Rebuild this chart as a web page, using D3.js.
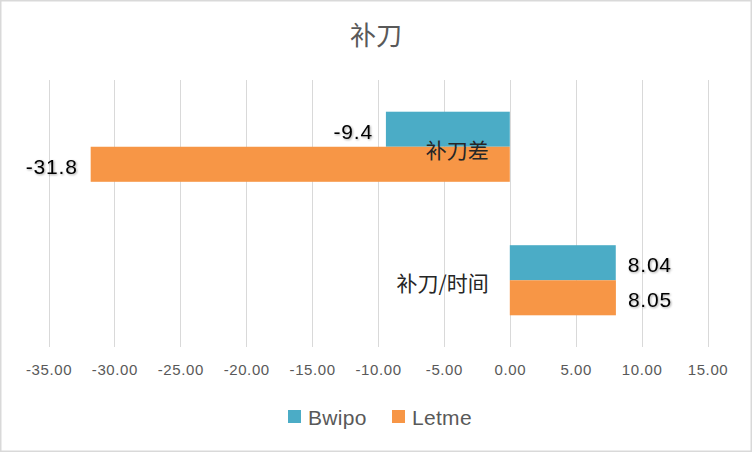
<!DOCTYPE html>
<html><head><meta charset="utf-8">
<script src="https://cdn.jsdelivr.net/npm/d3@7"></script>
<style>
html,body{margin:0;padding:0;background:#fff;}
svg{display:block;}
</style></head>
<body><svg id="chart" width="752" height="452"></svg>
<script>
const categories = ["补刀差", "补刀/时间"];
const seriesNames = ["Bwipo", "Letme"];
const bwipoValues = [-9.4, 8.04];
const letmeValues = [-31.8, 8.05];
const valueLabels = [["-9.4", "8.04"], ["-31.8", "8.05"]];
const xTicks = [-35, -30, -25, -20, -15, -10, -5, 0, 5, 10, 15];
const colors = ["#4BACC6", "#F79646"];
const title = "补刀";

const seriesValues = [bwipoValues, letmeValues];
const svg = d3.select("#chart");
const W = 752, H = 452;
const latin = "'Liberation Sans', Arial, sans-serif";
const cjk = "'Noto Sans CJK SC', 'Liberation Sans', sans-serif";

const defs = svg.append("defs");
const f = defs.append("filter").attr("id","shadow").attr("x","-20%").attr("y","-20%").attr("width","140%").attr("height","140%");
f.append("feDropShadow").attr("dx",1).attr("dy",1).attr("stdDeviation",0.8).attr("flood-color","#000").attr("flood-opacity",0.35);

svg.append("rect").attr("x",0.75).attr("y",0.75).attr("width",W-1.5).attr("height",H-1.5)
  .attr("fill","#fff").attr("stroke","#d9d9d9").attr("stroke-width",1.5);

const x = d3.scaleLinear().domain([-35, 15]).range([48.5, 707.5]);
const y0 = d3.scaleBand().domain(categories).range([80, 347]).paddingInner(0.475).paddingOuter(0.2375);
const y1 = d3.scaleBand().domain(seriesNames).range([0, y0.bandwidth()]);

// gridlines
svg.append("g").selectAll("line").data(xTicks).join("line")
  .attr("x1", d => Math.round(x(d)) + 0.5).attr("x2", d => Math.round(x(d)) + 0.5)
  .attr("y1", 80).attr("y2", 347)
  .attr("stroke", "#d9d9d9").attr("stroke-width", 1);

// axis labels
const fmt = d3.format(".2f");
const axis = d3.axisBottom(x).tickValues(xTicks).tickFormat(d => fmt(d).replace("\u2212", "-")).tickSize(0).tickPadding(0);
const ag = svg.append("g").attr("transform", "translate(0,364)").call(axis);
ag.select(".domain").remove();
ag.selectAll("text").attr("font-family", latin).attr("font-size", 15).attr("letter-spacing", 0.6)
  .attr("fill", "#595959").attr("dy", "0.71em");

// title
svg.append("text").attr("x", 376).attr("y", 45).attr("text-anchor", "middle")
  .attr("font-family", cjk).attr("font-size", 26).attr("fill", "#595959").text(title);

// bars
const groups = svg.append("g").selectAll("g").data(seriesNames).join("g")
  .attr("fill", (d, i) => colors[i]);
groups.each(function(s, si) {
  d3.select(this).selectAll("rect").data(categories).join("rect")
    .attr("x", (c, ci) => x(Math.min(0, seriesValues[si][ci])))
    .attr("width", (c, ci) => Math.abs(x(seriesValues[si][ci]) - x(0)))
    .attr("y", c => y0(c) + y1(s))
    .attr("height", y1.bandwidth());
});

// category labels
svg.append("g").selectAll("text").data(categories).join("text")
  .attr("x", x(0) - 21).attr("y", c => y0(c) + y0.bandwidth() / 2 + 2)
  .attr("text-anchor", "end").attr("dominant-baseline", "central")
  .attr("font-family", cjk).attr("font-size", 21).attr("fill", "#262626")
  .text(c => c);

// value labels
seriesNames.forEach((s, si) => {
  svg.append("g").selectAll("text").data(categories).join("text")
    .attr("x", (c, ci) => { const v = seriesValues[si][ci]; return v < 0 ? x(v) - 13 : x(v) + 12; })
    .attr("y", c => y0(c) + y1(s) + y1.bandwidth() / 2 + 2)
    .attr("text-anchor", (c, ci) => seriesValues[si][ci] < 0 ? "end" : "start")
    .attr("dominant-baseline", "central")
    .attr("font-family", latin).attr("font-size", 21).attr("letter-spacing", 0.8).attr("fill", "#000")
    .attr("filter", "url(#shadow)")
    .text((c, ci) => valueLabels[si][ci]);
});

// legend
const legend = svg.append("g");
const legX = [288, 392];
seriesNames.forEach((s, i) => {
  legend.append("rect").attr("x", legX[i]).attr("y", 410).attr("width", 13).attr("height", 13).attr("fill", colors[i]);
  legend.append("text").attr("x", legX[i] + 20).attr("y", 417).attr("dominant-baseline", "central")
    .attr("font-family", latin).attr("font-size", 21).attr("letter-spacing", 0.3).attr("fill", "#595959").text(s);
});
</script>
</body></html>
